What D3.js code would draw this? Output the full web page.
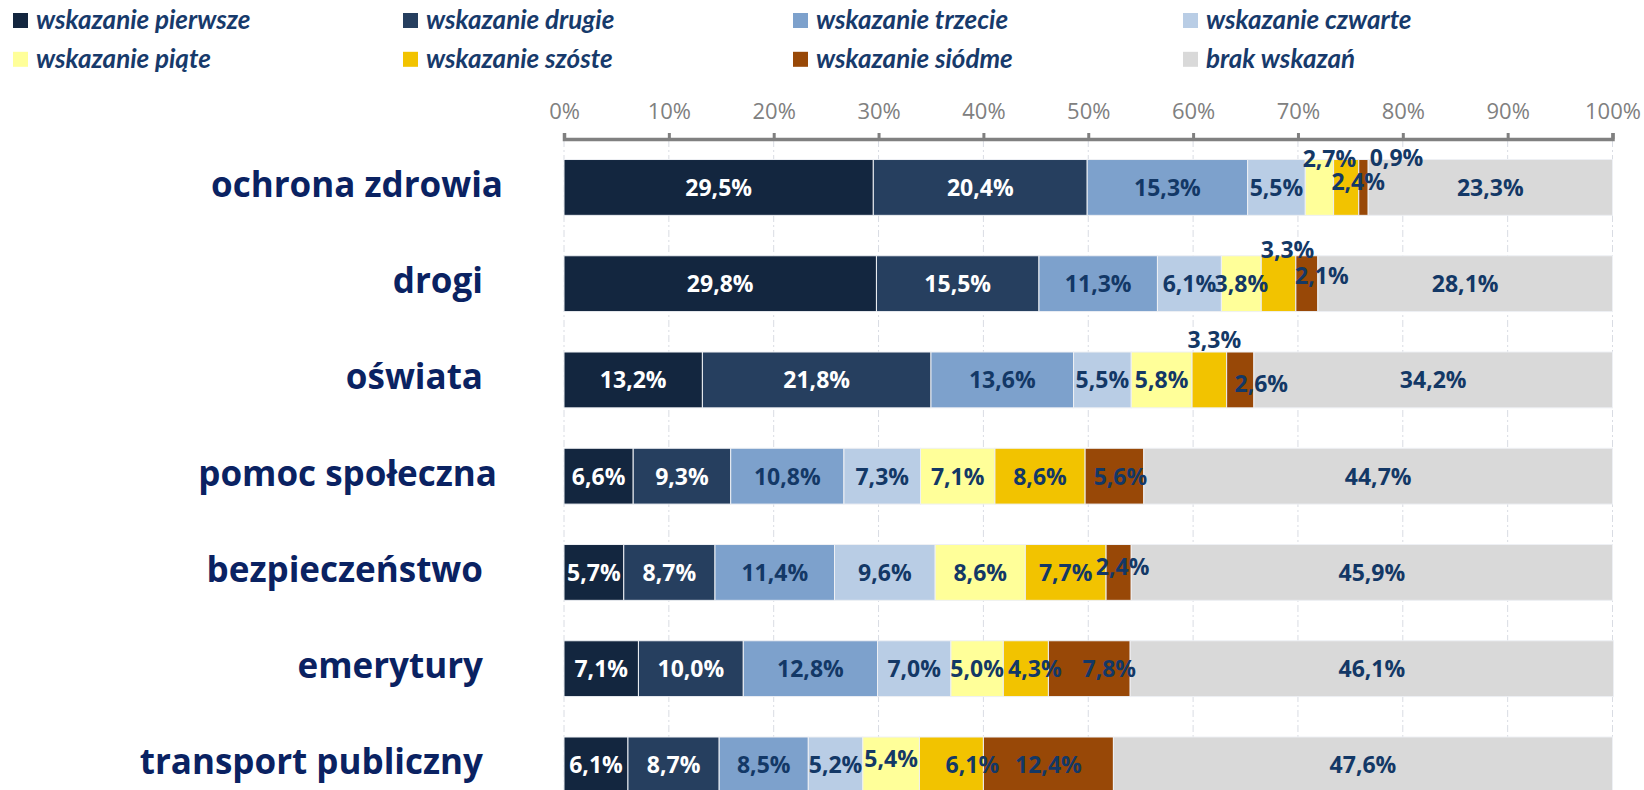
<!DOCTYPE html>
<html>
<head>
<meta charset="utf-8">
<script src="https://cdn.jsdelivr.net/npm/d3@7"></script>
<style>
  html, body { margin: 0; padding: 0; background: #fff; }
  svg { display: block; }
</style>
</head>
<body>
<svg id="chart" width="1644" height="790"></svg>
<script>
// ---------- data ----------
const categories = ["ochrona zdrowia", "drogi", "oświata", "pomoc społeczna", "bezpieczeństwo", "emerytury", "transport publiczny"];
const seriesNames = ["wskazanie pierwsze", "wskazanie drugie", "wskazanie trzecie", "wskazanie czwarte",
                     "wskazanie piąte", "wskazanie szóste", "wskazanie siódme", "brak wskazań"];
const pierwsze = [29.5, 29.8, 13.2, 6.6, 5.7, 7.1, 6.1];
const drugie   = [20.4, 15.5, 21.8, 9.3, 8.7, 10.0, 8.7];
const trzecie  = [15.3, 11.3, 13.6, 10.8, 11.4, 12.8, 8.5];
const czwarte  = [5.5, 6.1, 5.5, 7.3, 9.6, 7.0, 5.2];
const piate    = [2.7, 3.8, 5.8, 7.1, 8.6, 5.0, 5.4];
const szoste   = [2.4, 3.3, 3.3, 8.6, 7.7, 4.3, 6.1];
const siodme   = [0.9, 2.1, 2.6, 5.6, 2.4, 7.8, 12.4];
const brak     = [23.3, 28.1, 34.2, 44.7, 45.9, 46.1, 47.6];
const tickValues = [0, 10, 20, 30, 40, 50, 60, 70, 80, 90, 100];

// ---------- styles ----------
const colors = ["#13263f", "#263f5f", "#7da1cc", "#b9cde5", "#ffff99", "#f2c300", "#984807", "#d9d9d9"];
const labelColors = ["#ffffff", "#ffffff", "#133866", "#133866", "#133866", "#133866", "#133866", "#133866"];
// manual label nudges (series index - category index) : [dx, dy]
const labelNudge = {
  "4-0": [10, -29], "5-0": [12, -6], "6-0": [33, -30],
  "5-1": [9, -34], "6-1": [15, -8],
  "5-2": [5, -40], "6-2": [21, 4],
  "6-3": [6, 0],
  "6-4": [4, -6],
  "5-5": [9, 0], "6-5": [20, 0],
  "4-6": [0, -6], "5-6": [21, 0]
};
const catLabelEnd = {0: 503, 3: 497};

const seriesData = [pierwsze, drugie, trzecie, czwarte, piate, szoste, siodme, brak];
const rows = categories.map((c, i) => {
  const o = {cat: c, idx: i};
  seriesNames.forEach((s, k) => o[s] = seriesData[k][i]);
  return o;
});

const svg = d3.select("#chart");
const x = d3.scaleLinear().domain([0, 100]).range([564, 1612.5]);
const y = d3.scaleBand().domain(categories).range([139.3, 139.3 + 7 * 96.25])
  .paddingInner(0.42).paddingOuter(0.21);

const locale = d3.formatLocale({decimal: ",", thousands: " ", grouping: [3], currency: ["", " zł"]});
const fmt = locale.format(".1f");

// gridlines
svg.append("g").selectAll("line").data(tickValues).join("line")
  .attr("x1", d => x(d)).attr("x2", d => x(d))
  .attr("y1", 140).attr("y2", 790)
  .attr("stroke", "#d9dce3").attr("stroke-width", 1)
  .attr("stroke-dasharray", "7,3,2,3");

// axis
const axis = d3.axisTop(x).tickValues(tickValues).tickSize(6).tickPadding(14)
  .tickFormat(d => d + "%");
const ax = svg.append("g").attr("transform", "translate(0,139)").call(axis);
ax.select(".domain").attr("stroke", "#808080").attr("stroke-width", 3.5);
ax.selectAll(".tick line").attr("stroke", "#808080").attr("stroke-width", 3);
ax.selectAll(".tick text").attr("fill", "#808080")
  .style("font-family", "'Open Sans', sans-serif").style("font-size", "22px");

// stacked bars
const stack = d3.stack().keys(seriesNames);
const stacked = stack(rows);

const layers = svg.append("g").selectAll("g").data(stacked).join("g")
  .attr("fill", (d, k) => colors[k]);
layers.selectAll("rect").data(d => d).join("rect")
  .attr("x", d => x(d[0]))
  .attr("y", d => y(d.data.cat))
  .attr("width", d => x(d[1]) - x(d[0]))
  .attr("height", y.bandwidth())
  .attr("stroke", "#eef0f4").attr("stroke-width", 1);

// data labels
const lbl = svg.append("g").style("font-family", "'Open Sans', sans-serif")
  .style("font-size", "23px").style("font-weight", "700");
stacked.forEach((layer, k) => {
  lbl.selectAll(null).data(layer).join("text")
    .attr("x", d => {
      const n = labelNudge[k + "-" + d.data.idx];
      return (x(d[0]) + x(d[1])) / 2 + (n ? n[0] : 0);
    })
    .attr("y", d => {
      const n = labelNudge[k + "-" + d.data.idx];
      return y(d.data.cat) + y.bandwidth() / 2 + 8.5 + (n ? n[1] : 0);
    })
    .attr("text-anchor", "middle")
    .attr("fill", labelColors[k])
    .text(d => fmt(d[1] - d[0]) + "%");
});

// category labels
svg.append("g").selectAll("text").data(categories).join("text")
  .attr("x", (d, i) => catLabelEnd[i] !== undefined ? catLabelEnd[i] : 483)
  .attr("y", d => y(d) + y.bandwidth() / 2 + 9.5)
  .attr("text-anchor", "end")
  .attr("fill", "#0a2262")
  .style("font-family", "'Open Sans', sans-serif")
  .style("font-size", "35px").style("font-weight", "700")
  .text(d => d);

// legend
const leg = svg.append("g").selectAll("g").data(seriesNames).join("g")
  .attr("transform", (d, i) => `translate(${13 + (i % 4) * 390},${13 + Math.floor(i / 4) * 38.8})`);
leg.append("rect").attr("width", 15).attr("height", 15)
  .attr("fill", (d, i) => colors[i]);
leg.append("text").attr("x", 23).attr("y", 16)
  .attr("fill", "#173a6b")
  .style("font-family", "Lato, sans-serif").style("font-size", "26px")
  .style("font-weight", "700").style("font-style", "italic")
  .text(d => d);
</script>
</body>
</html>
